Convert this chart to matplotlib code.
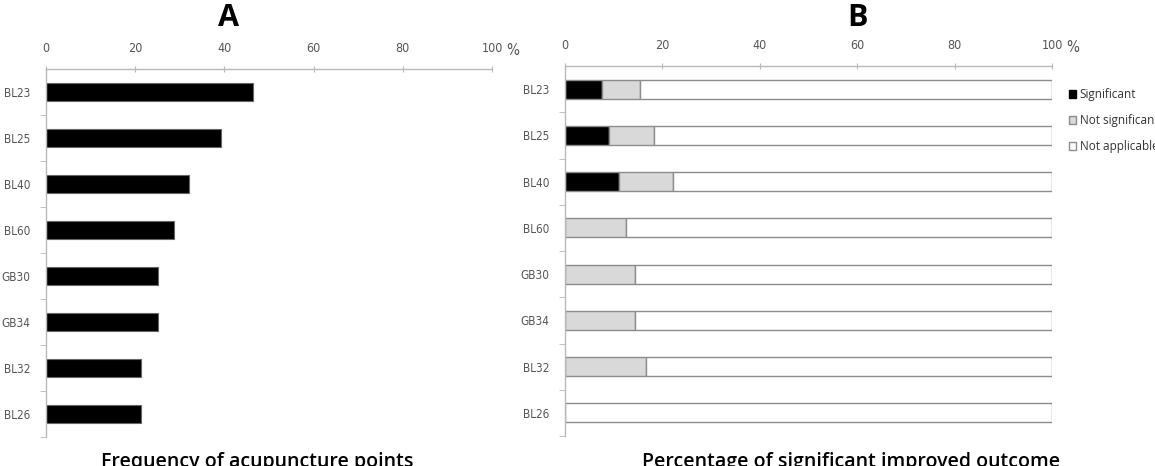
import numpy as np
import matplotlib
matplotlib.use('Agg')
import matplotlib.pyplot as plt
from matplotlib.patches import Patch
from matplotlib.transforms import offset_copy

points = ['BL23', 'BL25', 'BL40', 'BL60', 'GB30', 'GB34', 'BL32', 'BL26']
# share of the 28 studies using each point (%)
freq = [46.4, 39.3, 32.1, 28.6, 25.0, 25.0, 21.4, 21.4]
# outcome split per point (%)
signif = [7.7, 9.1, 11.1, 0, 0, 0, 0, 0]
not_signif = [7.7, 9.1, 11.1, 12.5, 14.3, 14.3, 16.7, 0]
xticks = [0, 20, 40, 60, 80, 100]
legend_labels = ['Significant', 'Not significant', 'Not applicable']

W, H = 1155, 466
fig = plt.figure(figsize=(W / 100, H / 100), dpi=100)
plt.rcParams['font.family'] = ['DejaVu Sans']
plt.rcParams['font.stretch'] = 'condensed'

def px(l, t, r, b):
    return [l / W, 1 - b / H, (r - l) / W, (b - t) / H]

axA = fig.add_axes(px(46, 69, 492, 437))
axB = fig.add_axes(px(565, 66, 1052, 436))

def style(ax):
    y = np.arange(len(points))
    ax.set_xlim(0, 100)
    ax.set_ylim(len(points) - 0.5, -0.5)
    for s in ['right', 'bottom']:
        ax.spines[s].set_visible(False)
    for s in ['top', 'left']:
        ax.spines[s].set_color('#b8b8b8')
        ax.spines[s].set_linewidth(1.0)
    ax.xaxis.tick_top()
    ax.set_xticks(xticks)
    ax.set_xticklabels([str(v) for v in xticks])
    ax.tick_params(axis='x', direction='inout', length=4, color='#b8b8b8',
                   labelsize=9, labelcolor='#555555', pad=8)
    ax.set_yticks(y)
    ax.set_yticklabels(points)
    ax.set_yticks(np.arange(len(points)) + 0.5, minor=True)
    ax.tick_params(axis='y', which='major', length=0, labelsize=8.5,
                   labelcolor='#555555', pad=11)
    ax.tick_params(axis='y', which='minor', length=4, direction='out', color='#b8b8b8')
    tr = offset_copy(ax.transAxes, fig=fig, x=14, y=0, units='dots')
    ax.text(1.0, 1.03, '%', transform=tr, fontsize=11,
            color='#555555', va='bottom', ha='left')
    return y

y = style(axA)
axA.barh(y, freq, height=0.39, color='black', edgecolor='#666666', linewidth=0.8)

y = style(axB)
n_app = [100 - a - b for a, b in zip(signif, not_signif)]
ec = '#8c8c8c'
axB.barh(y, signif, height=0.41, color='black', edgecolor=ec, linewidth=1)
axB.barh(y, not_signif, height=0.41, left=signif, color='#d9d9d9', edgecolor=ec, linewidth=1)
left2 = [a + b for a, b in zip(signif, not_signif)]
axB.barh(y, n_app, height=0.41, left=left2, color='white', edgecolor=ec, linewidth=1)

handles = [Patch(facecolor='black', edgecolor='black'),
           Patch(facecolor='#d9d9d9', edgecolor='#8c8c8c'),
           Patch(facecolor='white', edgecolor='#8c8c8c')]
fig.legend(handles, legend_labels, loc='upper left', bbox_to_anchor=(1069 / W, 1 - 88 / H),
           frameon=False, handlelength=0.6, handleheight=0.6,
           handletextpad=0.3, labelspacing=1.1, borderaxespad=0, borderpad=0,
           labelcolor='#333333', prop={'size': 8.5, 'stretch': 'normal', 'family': 'Open Sans'})

fig.text(228 / W, 1 - 18 / H, 'A', fontsize=22, fontweight='bold',
         ha='center', va='center', family='Open Sans', stretch='normal')
fig.text(858 / W, 1 - 18 / H, 'B', fontsize=22, fontweight='bold',
         ha='center', va='center', family='Open Sans', stretch='normal')
fig.text(257 / W, 1 - 452 / H, 'Frequency of acupuncture points', fontsize=14,
         fontweight='semibold', ha='center', va='top', family='Open Sans', stretch='normal')
fig.text(851 / W, 1 - 452 / H, 'Percentage of significant improved outcome', fontsize=14,
         fontweight='semibold', ha='center', va='top', family='Open Sans', stretch='normal')

fig.savefig('out.png', dpi=100)
